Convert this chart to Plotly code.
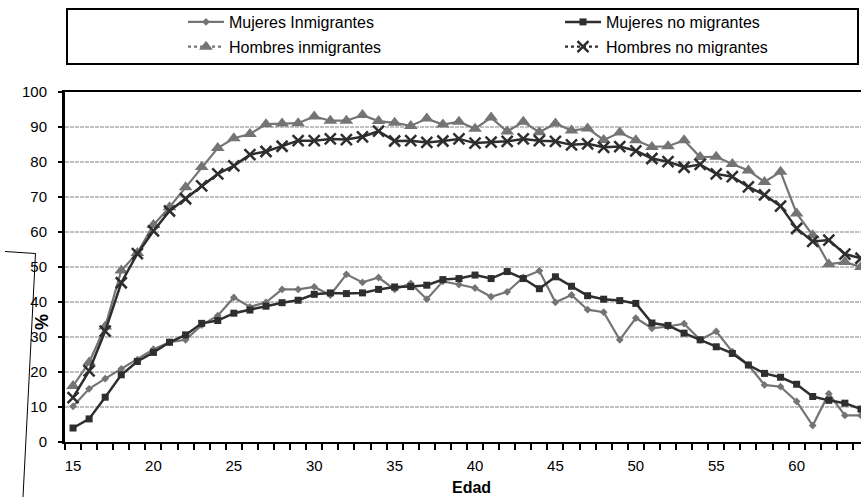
import plotly.graph_objects as go

# Ages (one category per year)
ages = list(range(15, 65))

mujeres_inmigrantes = [
    10.2, 15.2, 18.1, 20.9, 23.5, 26.5, 28.5, 29.2, 33.4, 36.1,
    41.3, 38.6, 39.9, 43.6, 43.6, 44.3, 42.0, 47.9, 45.6, 47.0,
    43.6, 45.3, 40.8, 45.9, 45.0, 44.0, 41.5, 42.9, 47.0, 48.9,
    39.9, 42.0, 37.8, 37.1, 29.2, 35.4, 32.5, 33.0, 33.8, 29.2,
    31.6, 25.8, 22.0, 16.3, 15.8, 11.6, 4.7, 13.8, 7.6, 7.6,
]
mujeres_no_migrantes = [
    4.0, 6.6, 12.8, 19.2, 23.0, 25.6, 28.5, 30.6, 33.9, 34.7,
    36.8, 37.7, 38.8, 39.8, 40.5, 42.2, 42.6, 42.4, 42.6, 43.6,
    44.3, 44.4, 44.8, 46.4, 46.7, 47.7, 46.7, 48.7, 46.7, 43.8,
    47.2, 44.5, 41.8, 40.8, 40.4, 39.6, 34.0, 33.3, 31.1, 29.2,
    27.2, 25.3, 22.0, 19.6, 18.5, 16.5, 13.0, 11.9, 11.1, 9.4,
]
hombres_inmigrantes = [
    16.0, 22.7, 33.0, 49.0, 54.0, 62.0, 67.1, 72.8, 78.6, 84.0,
    86.8, 88.0, 90.8, 91.0, 91.1, 93.0, 91.8, 91.8, 93.4, 91.7,
    91.2, 90.3, 92.4, 90.7, 91.5, 89.5, 92.7, 88.7, 91.5, 88.5,
    91.0, 89.0, 89.6, 86.3, 88.4, 86.2, 84.3, 84.5, 86.2, 81.4,
    81.5, 79.4, 77.6, 74.3, 77.2, 65.3, 59.1, 50.8, 51.4, 50.0,
]
hombres_no_migrantes = [
    12.7, 20.3, 31.7, 45.5, 53.8, 60.3, 66.0, 69.5, 73.2, 76.6,
    78.9, 82.1, 83.0, 84.5, 86.1, 86.1, 86.6, 86.4, 87.2, 88.8,
    86.0, 86.1, 85.6, 86.0, 86.6, 85.4, 85.7, 85.9, 86.6, 86.1,
    85.9, 84.9, 85.2, 84.2, 84.4, 83.2, 81.0, 80.1, 78.5, 79.3,
    76.6, 75.8, 72.9, 70.6, 67.4, 61.0, 57.3, 57.7, 53.7, 52.5,
]

x_tick_values = [15, 20, 25, 30, 35, 40, 45, 50, 55, 60]
y_tick_values = [0, 10, 20, 30, 40, 50, 60, 70, 80, 90, 100]

# Canvas and plot-area geometry (pixels)
W, H = 861, 497
L, R, T, B = 65, 0, 92, 55
PW, PH = W - L - R, H - T - B


def paper(xp, yp):
    """Convert a pixel position on the canvas to paper coordinates."""
    return (xp - L) / PW, (H - B - yp) / PH


FONT = "Liberation Sans, Arial, sans-serif"
GRAY = "#747474"
DARK = "#2e2e2e"

fig = go.Figure()

# Data series
fig.add_trace(go.Scatter(
    x=ages, y=mujeres_inmigrantes, mode="lines+markers", showlegend=False,
    line=dict(color=GRAY, width=2.2),
    marker=dict(symbol="diamond", size=6, color=GRAY),
))
fig.add_trace(go.Scatter(
    x=ages, y=mujeres_no_migrantes, mode="lines+markers", showlegend=False,
    line=dict(color=DARK, width=2.5),
    marker=dict(symbol="square", size=7, color=DARK),
))
fig.add_trace(go.Scatter(
    x=ages, y=hombres_inmigrantes, mode="lines+markers", showlegend=False,
    line=dict(color=GRAY, width=2.2),
    marker=dict(symbol="triangle-up", size=12, color=GRAY),
))
fig.add_trace(go.Scatter(
    x=ages, y=hombres_no_migrantes, mode="lines+markers", showlegend=False,
    line=dict(color=DARK, width=2.5),
    marker=dict(symbol="x-thin", size=11, color=DARK,
                line=dict(color=DARK, width=2.5)),
))

# Legend entries (two columns, two rows)
legend_specs = [
    ("Mujeres Inmigrantes", "legend", "a", dict(color=GRAY, width=2.2),
     dict(symbol="diamond", size=6, color=GRAY)),
    ("Hombres inmigrantes", "legend", "b", dict(color=GRAY, width=2.2, dash="dot"),
     dict(symbol="triangle-up", size=12, color=GRAY)),
    ("Mujeres no migrantes", "legend2", "c", dict(color=DARK, width=2.5),
     dict(symbol="square", size=7, color=DARK)),
    ("Hombres no migrantes", "legend2", "d", dict(color=DARK, width=2.2, dash="dot"),
     dict(symbol="x-thin", size=11, color=DARK, line=dict(color=DARK, width=2.5))),
]
for name, leg, grp, ln, mk in legend_specs:
    fig.add_trace(go.Scatter(
        x=[None], y=[None], mode="lines+markers", name=name,
        legend=leg, legendgroup=grp, line=ln, marker=mk,
    ))

legend_common = dict(
    orientation="v", yanchor="top", xanchor="left",
    bgcolor="rgba(0,0,0,0)", borderwidth=0,
    font=dict(family=FONT, size=16, color="#000000"),
    itemwidth=36, tracegroupgap=1, traceorder="grouped",
)
lx1, ly = paper(183, 5)
lx2, _ = paper(560, 5)

shapes = []
# Legend frame
x0, y0 = paper(67, 9)
x1, y1 = paper(858, 64)
shapes.append(dict(type="rect", xref="paper", yref="paper",
                   x0=x0, y0=y1, x1=x1, y1=y0,
                   line=dict(color="#000000", width=2)))
# Frame lines around the rotated axis title
pa = paper(5, 251.5)
pb = paper(35.5, 253.5)
pc = paper(23, 497)
shapes.append(dict(type="line", xref="paper", yref="paper",
                   x0=pa[0], y0=pa[1], x1=pb[0], y1=pb[1],
                   line=dict(color="#000000", width=1)))
shapes.append(dict(type="line", xref="paper", yref="paper",
                   x0=pb[0], y0=pb[1], x1=pc[0], y1=pc[1],
                   line=dict(color="#000000", width=1)))

tx, ty = paper(42, 322)
ex, ey = paper(471, 487)

fig.update_layout(
    width=W, height=H,
    margin=dict(l=L, r=R, t=T, b=B),
    paper_bgcolor="#ffffff", plot_bgcolor="#ffffff",
    font=dict(family=FONT, size=15, color="#000000"),
    legend=dict(x=lx1, y=ly, **legend_common),
    legend2=dict(x=lx2, y=ly, **legend_common),
    shapes=shapes,
    annotations=[
        dict(text="<b>%</b>", xref="paper", yref="paper", x=tx, y=ty,
             xanchor="center", yanchor="middle",
             showarrow=False, textangle=-90,
             font=dict(family=FONT, size=18, color="#000000")),
        dict(text="<b>Edad</b>", xref="paper", yref="paper", x=ex, y=ey,
             xanchor="center", yanchor="middle", showarrow=False,
             font=dict(family=FONT, size=16, color="#000000")),
    ],
)

fig.update_xaxes(
    range=[14.5, 14.5 + PW / 16.08],
    tickmode="array", tickvals=x_tick_values,
    ticks="", ticklabelstandoff=9,
    tickfont=dict(family=FONT, size=15, color="#000000"),
    showgrid=False, zeroline=False,
    showline=True, linecolor="#000000", linewidth=2, mirror=True,
    minor=dict(tick0=14.5, dtick=1, ticks="outside", ticklen=6,
               tickwidth=2, tickcolor="#000000", showgrid=False),
)
fig.update_yaxes(
    range=[0, 100], tickmode="array", tickvals=y_tick_values,
    ticks="outside", ticklen=4, tickwidth=2, tickcolor="#000000",
    ticklabelstandoff=8,
    tickfont=dict(family=FONT, size=15, color="#000000"),
    showgrid=True, gridcolor="#c0c0c0", gridwidth=2, griddash="4px,1px",
    zeroline=False,
    showline=True, linecolor="#000000", linewidth=3,
)

fig.write_html("out.html")
